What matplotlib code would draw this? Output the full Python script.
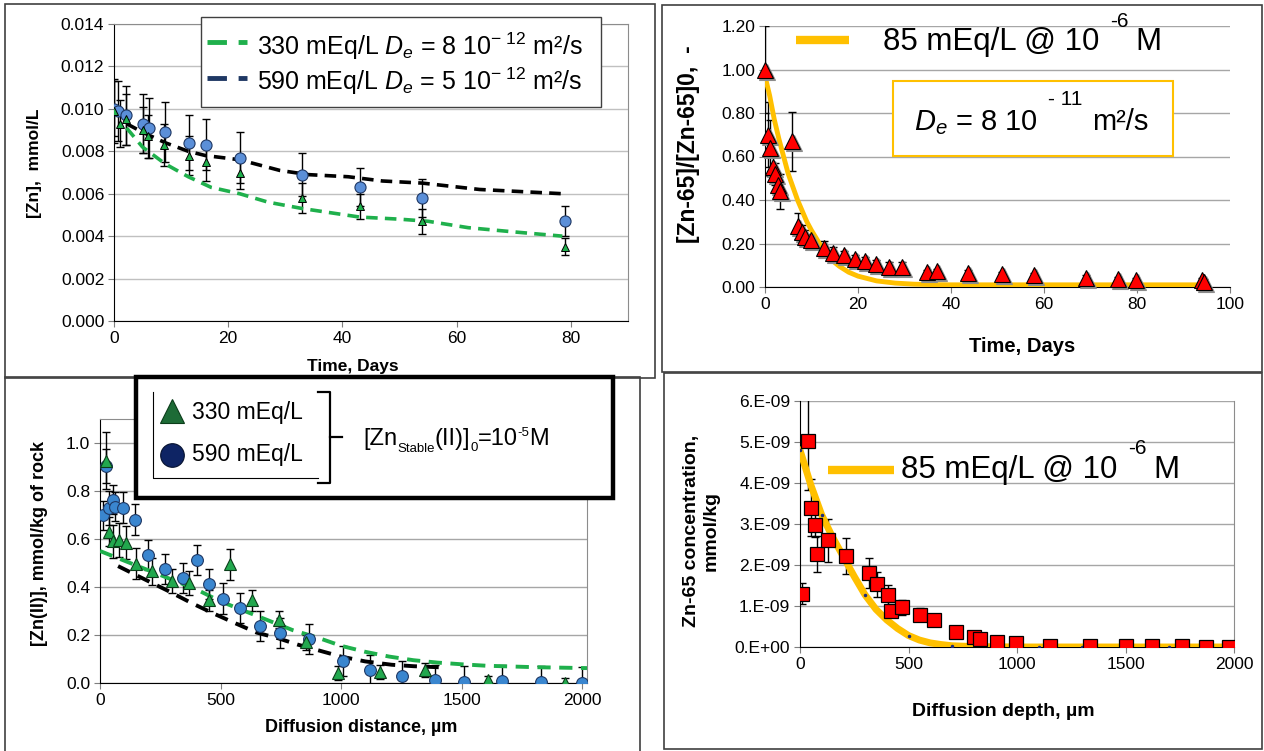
import numpy as np
import matplotlib.pyplot as plt
from matplotlib import font_manager
from matplotlib.patches import Rectangle
from matplotlib.lines import Line2D
from matplotlib.transforms import offset_copy
from matplotlib.ticker import FuncFormatter, FormatStrFormatter

# ---- data: top-left, dissolved Zn vs time ----
t_590 = [0, 0.7, 2.1, 5.0, 6.1, 8.9, 13.1, 16.1, 22.0, 32.9, 43.0, 54.0, 78.9]
zn_590 = [0.0100, 0.0099, 0.0097, 0.0093, 0.0091, 0.0089, 0.0084, 0.0083, 0.0077, 0.0069, 0.0063, 0.0058, 0.0047]
err_590 = [0.0013, 0.0014, 0.0014, 0.0014, 0.0014, 0.0014, 0.0013, 0.0012, 0.0012, 0.0010, 0.0009, 0.0009, 0.0007]
t_330 = [0, 1.0, 2.1, 5.0, 6.0, 8.8, 13.1, 16.1, 22.0, 32.9, 43.0, 54.0, 78.9]
zn_330 = [0.0099, 0.0093, 0.0095, 0.0090, 0.0087, 0.0083, 0.0078, 0.0075, 0.0070, 0.0058, 0.0054, 0.0047, 0.0035]
err_330 = [0.0015, 0.0011, 0.0012, 0.0011, 0.0010, 0.0010, 0.0009, 0.0009, 0.0008, 0.0007, 0.0006, 0.0006, 0.0004]
fit330_t = [2.2, 5, 9, 13, 17, 22, 27, 33, 38, 43, 50, 55, 62, 70, 78.5]
fit330_c = [0.0091, 0.0082, 0.0074, 0.0068, 0.0063, 0.0060, 0.0056, 0.0053, 0.0051, 0.0049, 0.0048, 0.0047, 0.0044, 0.0042, 0.0040]
fit590_t = [2.2, 5, 9, 13, 16, 22, 29, 34, 41, 47, 54, 64, 78.5]
fit590_c = [0.0093, 0.0089, 0.0084, 0.0080, 0.0078, 0.0076, 0.0071, 0.0069, 0.0068, 0.0066, 0.0065, 0.0062, 0.0060]

# ---- data: top-right, Zn-65 in solution ----
t_zn65 = [0, 0.6, 1.0, 1.7, 2.1, 2.7, 3.2, 5.7, 7.0, 7.9, 8.7, 9.9, 12.6, 14.7, 16.9, 19.4, 21.6,
          23.9, 26.7, 29.5, 34.8, 37.0, 43.6, 50.9, 57.9, 69.0, 76.0, 79.7, 94.0, 94.5]
c_zn65 = [1.00, 0.70, 0.64, 0.55, 0.52, 0.47, 0.44, 0.67, 0.28, 0.255, 0.23, 0.215, 0.18, 0.155, 0.147,
          0.127, 0.12, 0.106, 0.094, 0.094, 0.07, 0.075, 0.066, 0.06, 0.055, 0.043, 0.035, 0.032, 0.032, 0.025]
e_zn65 = [0.20, 0.15, 0.13, 0.05, 0.05, 0.05, 0.08, 0.135, 0.06, 0.03, 0.03, 0.03, 0.03, 0.03, 0.02,
          0.02, 0.02, 0.02, 0.02, 0.02, 0.01, 0.01, 0.01, 0.01, 0.01, 0.01, 0.01, 0.01, 0.01, 0.01]
fit65_t = [0, 1, 2, 3, 4, 5, 6, 7, 8, 9, 10, 12, 14, 16, 18, 20, 24, 28, 32, 36, 40, 50, 60, 70, 80, 94]
fit65_c = [0.97, 0.88, 0.77, 0.68, 0.60, 0.52, 0.46, 0.40, 0.35, 0.30, 0.26, 0.19, 0.13, 0.095, 0.068,
           0.05, 0.028, 0.018, 0.013, 0.011, 0.01, 0.01, 0.01, 0.01, 0.01, 0.01]

# ---- data: bottom-left, Zn(II) profile in rock ----
d_590 = [12, 24, 37, 53, 64, 97, 144, 200, 268, 346, 402, 453, 511, 582, 663, 746, 867, 1006, 1120,
         1252, 1388, 1511, 1668, 1829, 2000]
p_590 = [0.698, 0.904, 0.729, 0.763, 0.735, 0.731, 0.681, 0.534, 0.476, 0.436, 0.513, 0.412, 0.352, 0.313,
         0.236, 0.208, 0.183, 0.092, 0.055, 0.028, 0.014, 0.006, 0.010, 0.006, 0.002]
pe_590 = [0.06, 0.07, 0.07, 0.06, 0.06, 0.065, 0.063, 0.063, 0.063, 0.063, 0.063, 0.063, 0.063, 0.063,
          0.063, 0.063, 0.063, 0.063, 0.063, 0.063, 0.063, 0.063, 0.063, 0.063, 0.063]
d_330 = [24, 37, 53, 78, 107, 148, 217, 297, 371, 453, 541, 629, 741, 855, 989, 1162, 1350, 1610, 1927]
p_330 = [0.927, 0.63, 0.59, 0.596, 0.585, 0.497, 0.465, 0.423, 0.416, 0.344, 0.494, 0.344, 0.264, 0.169,
         0.042, 0.046, 0.055, 0.011, 0.0]
pe_330 = [0.12, 0.06, 0.07, 0.07, 0.07, 0.065, 0.055, 0.05, 0.05, 0.045, 0.066, 0.044, 0.036, 0.03,
          0.03, 0.03, 0.03, 0.02, 0.02]
fitp330_d = [0, 100, 200, 300, 400, 500, 600, 700, 800, 900, 1000, 1100, 1200, 1300, 1400, 1500, 1600, 1800, 2020]
fitp330_c = [0.55, 0.51, 0.47, 0.43, 0.39, 0.34, 0.30, 0.26, 0.22, 0.19, 0.155, 0.13, 0.11, 0.095, 0.085,
             0.078, 0.072, 0.066, 0.062]
fitp590_d = [75, 175, 280, 380, 470, 570, 650, 740, 820, 910, 1000, 1100, 1210, 1300, 1420]
fitp590_c = [0.487, 0.437, 0.385, 0.333, 0.29, 0.245, 0.21, 0.186, 0.16, 0.135, 0.11, 0.09, 0.076, 0.07, 0.065]

# ---- data: bottom-right, Zn-65 profile (x 1e-9 mmol/kg) ----
d_zn65 = [11, 35, 50, 69, 78, 131, 214, 320, 356, 404, 418, 469, 554, 616, 719, 800, 830, 906, 995,
          1154, 1335, 1501, 1621, 1759, 1869, 1975]
p_zn65 = [1.30, 5.02, 3.40, 2.98, 2.26, 2.60, 2.21, 1.80, 1.53, 1.26, 0.89, 0.97, 0.79, 0.65, 0.37, 0.24,
          0.19, 0.13, 0.09, 0.03, 0.02, 0.02, 0.02, 0.03, 0.01, 0.01]
pe_zn65 = [0.26, 1.2, 0.7, 0.3, 0.44, 0.52, 0.44, 0.36, 0.30, 0.25, 0.15, 0.18, 0.15, 0.05, 0.05, 0.05,
           0.05, 0.05, 0.05, 0.05, 0.05, 0.05, 0.05, 0.05, 0.05, 0.05]
fitz_d = [0, 50, 100, 150, 200, 250, 300, 350, 400, 450, 500, 550, 600, 650, 700, 750, 800, 900, 1000,
          1200, 1400, 1600, 1800, 1950]
fitz_c = [4.8, 3.95, 3.22, 2.68, 2.2, 1.72, 1.27, 0.92, 0.66, 0.45, 0.28, 0.17, 0.10, 0.06, 0.03, 0.02,
          0.01, 0.005, 0, 0, 0, 0, 0, 0]
dots_d = [0, 100, 300, 500, 700, 900, 1100, 1300, 1500, 1700, 1900]
dots_c = [4.8, 3.22, 1.27, 0.28, 0.03, 0.005, 0, 0, 0, 0, 0]

# ---- style ----
names = {f.name for f in font_manager.fontManager.ttflist}
NARROW = 'Liberation Sans Narrow' if 'Liberation Sans Narrow' in names else 'Liberation Sans'
plt.rcParams['font.family'] = ['Liberation Sans', 'DejaVu Sans']
plt.rcParams['mathtext.fontset'] = 'custom'
plt.rcParams['mathtext.rm'] = 'Liberation Sans'
plt.rcParams['mathtext.it'] = 'Liberation Sans:italic'
plt.rcParams['mathtext.bf'] = 'Liberation Sans:bold'

GREEN = '#1FB04C'
BLUE = '#5B8FD8'
BLUE2 = '#3A86CF'
YELLOW = '#FFC000'
GRID = '#A6A6A6'

W, H = 1264, 751
fig = plt.figure(figsize=(W / 100, H / 100), dpi=100)
fig.patch.set_facecolor('white')
renderer = fig.canvas.get_renderer()


def fx(px):
    return px / W


def fy(py):
    return 1 - py / H


def add_ax(l, t, r, b):
    return fig.add_axes([fx(l), fy(b), (r - l) / W, (b - t) / H])


def ftext(x, y, s, **kw):
    return fig.text(fx(x), fy(y), s, **kw)


def chain(x, y, parts, **kw):
    # runs of text set one after another, each with its own size and vertical shift
    for s, size, dy in parts:
        t = ftext(x, y + dy, s, fontsize=size, va='baseline', **kw)
        x += t.get_window_extent(renderer=renderer).width


def fline(xs, ys, **kw):
    ln = Line2D([fx(v) for v in xs], [fy(v) for v in ys], transform=fig.transFigure, **kw)
    fig.add_artist(ln)
    return ln


def frame(l, t, r, b, **kw):
    rect = Rectangle((fx(l), fy(b)), (r - l) / W, (b - t) / H, transform=fig.transFigure, **kw)
    fig.add_artist(rect)
    return rect


def style_axes(ax, box_color, labelsize, family='Liberation Sans'):
    ax.set_facecolor('white')
    ax.yaxis.grid(True, color=GRID, lw=1)
    ax.set_axisbelow(True)
    ax.spines['left'].set_color('black')
    ax.spines['bottom'].set_color('black')
    for s in ['top', 'right']:
        if box_color is None:
            ax.spines[s].set_visible(False)
        else:
            ax.spines[s].set_color(box_color)
    ax.tick_params(direction='out', length=4, color='#7F7F7F', labelsize=labelsize, pad=3)
    for lab in ax.get_xticklabels() + ax.get_yticklabels():
        lab.set_family(family)


eb = dict(fmt='none', ecolor='black', elinewidth=1, capsize=3, capthick=1, zorder=3)

# frames around the four panels
frame(5, 4, 655, 378, fill=False, ec='#404040', lw=1.2, zorder=0)
frame(662, 5, 1262, 372, fill=False, ec='#404040', lw=1.2, zorder=0)
frame(5, 377, 640, 760, fill=False, ec='#404040', lw=1.2, zorder=0)
frame(664, 373, 1262, 749, fill=False, ec='#404040', lw=1.2, zorder=0)

# ================= panel 1 =================
ax1 = add_ax(114, 24, 628, 321)
ax1.errorbar(t_590, zn_590, yerr=err_590, **eb)
ax1.errorbar(t_330, zn_330, yerr=err_330, **eb)
ax1.plot(fit330_t, fit330_c, color=GREEN, lw=2.6, dashes=(3.2, 2.0), zorder=4)
ax1.plot(fit590_t, fit590_c, color='black', lw=2.6, dashes=(3.2, 2.0), zorder=4)
ax1.plot(t_590, zn_590, 'o', ms=8, mfc=BLUE, mec='#1F3864', mew=0.8, zorder=5)
ax1.plot(t_330, zn_330, '^', ms=6, mfc=GREEN, mec='black', mew=0.7, zorder=6)
ax1.set_xlim(0, 90)
ax1.set_ylim(0, 0.014)
ax1.set_xticks([0, 20, 40, 60, 80])
ax1.set_yticks(np.arange(0, 0.0141, 0.002))
ax1.yaxis.set_major_formatter(FormatStrFormatter('%.3f'))
style_axes(ax1, '#8C8C8C', 12.5)
ax1.yaxis.grid(True, color='#C0C0C0', lw=1)
ftext(353, 366, 'Time, Days', ha='center', va='center', fontsize=12.5, fontweight='bold')
ftext(35, 163, '[Zn],  mmol/L', ha='center', va='center', rotation=90, fontsize=12.5, fontweight='bold')

frame(201, 17, 601, 107, fc='white', ec='#404040', lw=1.0, zorder=8)
fline([207, 247], [42, 42], color=GREEN, lw=3.5, dashes=(4, 2.4), zorder=9)
fline([207, 247], [78, 78], color='#1F3864', lw=3.5, dashes=(4, 2.4), zorder=9)
ftext(257, 55, r'330 mEq/L $D_e$ = 8 10$^{-\ 12}$ m²/s', fontsize=18, va='baseline', zorder=9)
ftext(257, 90, r'590 mEq/L $D_e$ = 5 10$^{-\ 12}$ m²/s', fontsize=18, va='baseline', zorder=9)

# ================= panel 2 =================
ax2 = add_ax(765, 26, 1230, 287)
ax2.errorbar(t_zn65, c_zn65, yerr=e_zn65, **eb)
ax2.plot(fit65_t, fit65_c, color=YELLOW, lw=3.5, zorder=4, solid_capstyle='butt')
shadow = offset_copy(ax2.transData, fig=fig, x=2, y=-2, units='dots')
ax2.plot(t_zn65, c_zn65, '^', ms=12, mfc='#8C8C8C', mec='#8C8C8C', mew=0.8, zorder=4.8,
         transform=shadow, clip_on=False)
ax2.plot(t_zn65, c_zn65, '^', ms=12, mfc='#FF0000', mec='black', mew=0.8, zorder=5, clip_on=False)
ax2.set_xlim(0, 100)
ax2.set_ylim(0, 1.2)
ax2.set_xticks(range(0, 101, 20))
ax2.set_yticks(np.arange(0, 1.21, 0.2))
ax2.yaxis.set_major_formatter(FormatStrFormatter('%.2f'))
style_axes(ax2, None, 12.5, NARROW)
ftext(1022, 347, 'Time, Days', ha='center', va='center', fontsize=14.5, fontweight='bold', family=NARROW)
ftext(688, 144, '[Zn-65]/[Zn-65]0,  -', ha='center', va='center', rotation=90, fontsize=16.5,
      fontweight='bold', family=NARROW)

fline([796, 849], [40, 40], color=YELLOW, lw=6, solid_capstyle='butt', zorder=9)
ftext(883, 50, '85 mEq/L @ 10', fontsize=22.5, va='baseline', zorder=9)
ftext(1110, 27, '-6', fontsize=15, va='baseline', zorder=9)
ftext(1135, 50, 'M', fontsize=22.5, va='baseline', zorder=9)

frame(893, 81, 1173, 156, fc='white', ec=YELLOW, lw=1.5, zorder=8)
ftext(914, 130, r'$D_e$ = 8 10', fontsize=21, va='baseline', zorder=9)
ftext(1048, 105, '- 11', fontsize=15, va='baseline', zorder=9)
ftext(1092, 130, 'm²/s', fontsize=21, va='baseline', zorder=9)

# ================= panel 3 =================
ax3 = add_ax(100, 419, 587, 683)
ax3.errorbar(d_590, p_590, yerr=pe_590, **eb)
ax3.errorbar(d_330, p_330, yerr=pe_330, **eb)
ax3.plot(fitp330_d, fitp330_c, color=GREEN, lw=2.8, dashes=(3.4, 2.2), zorder=4)
ax3.plot(fitp590_d, fitp590_c, color='black', lw=2.8, dashes=(3.4, 2.2), zorder=4)
ax3.plot(d_590, p_590, 'o', ms=8.5, mfc=BLUE2, mec='#1F3864', mew=0.8, zorder=5)
ax3.plot(d_330, p_330, '^', ms=8.5, mfc='#22A84E', mec='#0B3D1A', mew=0.8, zorder=6)
ax3.set_xlim(0, 2020)
ax3.set_ylim(0, 1.1)
ax3.set_xticks(range(0, 2001, 500))
ax3.set_yticks(np.arange(0, 1.01, 0.2))
ax3.yaxis.set_major_formatter(FormatStrFormatter('%.1f'))
style_axes(ax3, '#8C8C8C', 12.5)
ftext(361, 727, 'Diffusion distance, µm', ha='center', va='center', fontsize=13, fontweight='bold')
ftext(40, 544, '[Zn(II)], mmol/kg of rock', ha='center', va='center', rotation=90, fontsize=13,
      fontweight='bold')

frame(136, 377, 613, 498, fc='white', ec='black', lw=3.2, zorder=8)
fline([153, 153, 318], [392, 478, 478], color='black', lw=0.8, zorder=9)
fline([318, 330, 330, 318], [392, 392, 483, 483], color='black', lw=1.6, zorder=9)
fline([330, 342], [437, 437], color='black', lw=1.6, zorder=9)
fline([172], [411], marker='^', ms=17, mfc='#1D6B36', mec='#0B3D1A', mew=0.8, ls='none', zorder=9)
fline([172], [455], marker='o', ms=17, mfc='#0E2464', mec='#06122F', mew=0.8, ls='none', zorder=9)
ftext(192, 412, '330 mEq/L', fontsize=16.5, va='center', family=NARROW, zorder=9)
ftext(192, 455, '590 mEq/L', fontsize=16.5, va='center', family=NARROW, zorder=9)
chain(363, 445, [('[Zn', 17, 0), ('Stable', 9.5, 7), ('(II)]', 17, 0), ('0', 9.5, 6),
                 ('=10', 17, 0), ('-5', 9.5, -9), ('M', 17, 0)], zorder=9)

# ================= panel 4 =================
ax4 = add_ax(800, 401, 1234, 647)
ax4.errorbar(d_zn65, np.array(p_zn65) * 1e-9, yerr=np.array(pe_zn65) * 1e-9, **eb)
ax4.plot(fitz_d, np.array(fitz_c) * 1e-9, color=YELLOW, lw=5, zorder=4)
ax4.plot(dots_d, np.array(dots_c) * 1e-9, '.', ms=3, color='#1F2D7A', zorder=4.5)
ax4.plot(d_zn65, np.array(p_zn65) * 1e-9, 's', ms=10.5, mfc='#FF0000', mec='black', mew=0.9, zorder=5)
ax4.set_xlim(0, 2000)
ax4.set_ylim(0, 6e-9)
ax4.set_xticks(range(0, 2001, 500))
ax4.set_yticks(np.arange(0, 6.01, 1) * 1e-9)


def excel_sci(v, pos):
    if abs(v) < 1e-15:
        return '0.E+00'
    e = int(np.floor(np.log10(abs(v)) + 1e-9))
    return f'{v / 10 ** e:.0f}.E{e:+03d}'


ax4.yaxis.set_major_formatter(FuncFormatter(excel_sci))
style_axes(ax4, '#8C8C8C', 12.5)
ax4.spines['top'].set_visible(False)
ftext(1003, 712, 'Diffusion depth, µm', ha='center', va='center', fontsize=14, fontweight='bold')
ftext(701, 531, 'Zn-65 concentration,\nmmol/kg', ha='center', va='center', rotation=90, fontsize=14,
      fontweight='bold', multialignment='center')

fline([828, 894], [470, 470], color=YELLOW, lw=6, solid_capstyle='butt', zorder=9)
ftext(901, 478, '85 mEq/L @ 10', fontsize=22.5, va='baseline', zorder=9)
ftext(1128, 454, '-6', fontsize=15, va='baseline', zorder=9)
ftext(1153, 478, 'M', fontsize=22.5, va='baseline', zorder=9)

fig.savefig('out.png', dpi=100, facecolor='white')
